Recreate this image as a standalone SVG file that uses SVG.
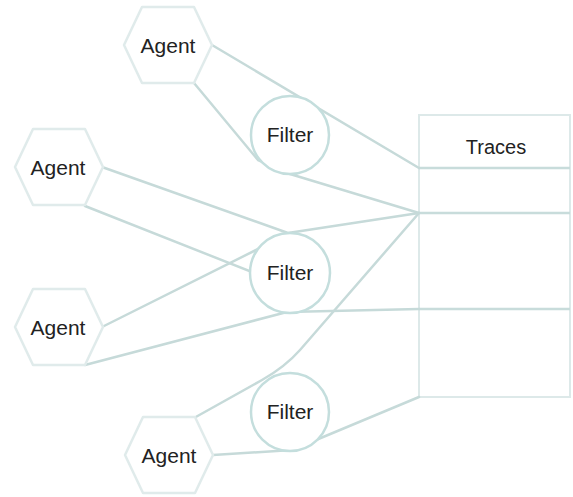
<svg xmlns="http://www.w3.org/2000/svg" width="573" height="497" viewBox="0 0 573 497">
<style>
  .bg { fill: #ffffff; }
  .hex { fill: #ffffff; stroke: #e0ebeb; stroke-width: 2.5; stroke-linejoin: round; }
  .flt { fill: #ffffff; stroke: #c4dedd; stroke-width: 2.5; }
  .box { fill: #ffffff; stroke: #dde9e9; stroke-width: 2; }
  .row { fill: none; stroke: #c8dcdb; stroke-width: 2.5; }
  .con { fill: none; stroke: #c6dad9; stroke-width: 2.5; stroke-linejoin: round; stroke-linecap: round; }
  .lbl { font-family: "Liberation Sans", Arial, sans-serif; font-size: 21px; fill: #222222; text-anchor: middle; }
  .lbl2 { font-family: "Liberation Sans", Arial, sans-serif; font-size: 20px; fill: #222222; text-anchor: middle; }
</style>
<rect class="bg" x="0" y="0" width="573" height="497"/>

<g id="traces">
  <rect class="box" x="419" y="115" width="151" height="282"/>
  <line class="row" x1="419" y1="168" x2="570" y2="168"/>
  <line class="row" x1="419" y1="213" x2="570" y2="213"/>
  <line class="row" x1="419" y1="309" x2="570" y2="309"/>
  <text class="lbl2" x="496" y="154">Traces</text>
</g>

<g id="connectors">
  <path class="con" d="M212,45 L419,168"/>
  <path class="con" d="M194,83 L258,160 L290,174 L419,213"/>
  <path class="con" d="M102,167 L288,233 L419,213"/>
  <path class="con" d="M85,206 L262,276"/>
  <path class="con" d="M102,327 L264,246"/>
  <path class="con" d="M85,365 L287,312 L419,309"/>
  <path class="con" d="M194,418 L262,380 Q285,367 300,350 L419,213"/>
  <path class="con" d="M213,455 L292,450 L419,397"/>
</g>

<g id="agent-top">
  <polygon class="hex" points="124,45 142,7 194,7 212,45 194,83 142,83"/>
  <text class="lbl" x="168" y="53">Agent</text>
</g>
<g id="agent-mid">
  <polygon class="hex" points="15,167 33,129 85,129 103,167 85,205 33,205"/>
  <text class="lbl" x="58" y="175">Agent</text>
</g>
<g id="agent-low">
  <polygon class="hex" points="15,327 33,289 85,289 103,327 85,365 33,365"/>
  <text class="lbl" x="58" y="335">Agent</text>
</g>
<g id="agent-bottom">
  <polygon class="hex" points="125,455 143,417 195,417 213,455 195,493 143,493"/>
  <text class="lbl" x="169" y="463">Agent</text>
</g>

<g id="filter-top">
  <circle class="flt" cx="290" cy="135" r="39"/>
  <text class="lbl" x="290" y="142">Filter</text>
</g>
<g id="filter-mid">
  <circle class="flt" cx="290" cy="273" r="40"/>
  <text class="lbl" x="290" y="280">Filter</text>
</g>
<g id="filter-bottom">
  <circle class="flt" cx="290" cy="412" r="39"/>
  <text class="lbl" x="290" y="419">Filter</text>
</g>
</svg>
